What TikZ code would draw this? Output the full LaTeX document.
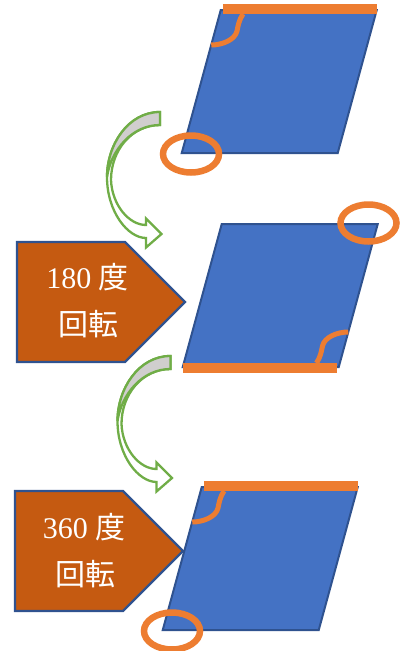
\documentclass[tikz,border=0pt]{standalone}
\usepackage{fontspec}
\setmainfont{Liberation Serif}
\newfontfamily\cjk{Noto Sans CJK JP}
\definecolor{pblue}{HTML}{4472C4}
\definecolor{pedge}{HTML}{2F528F}
\definecolor{porange}{HTML}{ED7D31}
\definecolor{pbrown}{HTML}{C55A11}
\definecolor{pgreen}{HTML}{70AD47}
\definecolor{pgray}{HTML}{D0CECE}
\tikzset{
  para/.style={fill=pblue, draw=pedge, line width=2pt, line join=miter},
  topbar/.style={draw=porange, line width=10pt, line cap=butt},
  hook/.style={draw=porange, line width=5pt},
  ring/.style={draw=porange, line width=6.5pt},
  penta/.style={fill=pbrown, draw=pedge, line width=2.2pt, line join=miter},
  lbl/.style={text=white, font=\fontsize{30}{36}\selectfont, inner sep=0pt, anchor=base},
  cgreen/.style={draw=pgreen, line width=2.3pt, line join=miter},
  paragroup/.pic={
    \draw[para] (-58.5,-71.5) -- (97.5,-71.5) -- (58.5,71.5) -- (-97.5,71.5) -- cycle;
    \draw[topbar] (-56.5,-72.5) -- (97.5,-72.5);
    \draw[hook] (-36.25,-67.5) .. controls (-40.25,-61.5) and (-41.25,-55.5) .. (-42.25,-50.5)
       .. controls (-44.25,-41.5) and (-57.25,-36.5) .. (-68,-36.5);
    \draw[ring] (-88.25,72.5) ellipse [x radius=28, y radius=18.5];
  },
  curvarrow/.pic={
    \path[cgreen, fill=white] (160,112) .. controls (128,112) and (107,145) .. (107,177)
       .. controls (107,212) and (128,238) .. (146,238)
       -- (146,247.5) -- (161.5,234) -- (146,218.5) -- (146,225)
       .. controls (129,225) and (112,205) .. (111,180)
       .. controls (111,150) and (132,125) .. (160,125) -- cycle;
    \path[cgreen, fill=pgray] (160,112) .. controls (128,112) and (107,145) .. (107,177)
       .. controls (111,150) and (132,125) .. (160,125) -- cycle;
  }
}
\begin{document}
\begin{tikzpicture}[x=1pt, y=-1pt]
\useasboundingbox (0,0) rectangle (409,651);
% parallelograms
\pic at (279.25,81.5) {paragroup};
\pic[rotate=180] at (280.25,295.5) {paragroup};
\pic at (260.25,558.5) {paragroup};
% curved arrows
\pic at (0,0) {curvarrow};
\pic at (10.5,244) {curvarrow};
% pentagon labels
\draw[penta] (17,242) -- (125,242) -- (185,302) -- (125,362) -- (17,362) -- cycle;
\draw[penta] (15,491) -- (123,491) -- (183,551) -- (123,611) -- (15,611) -- cycle;
\node[lbl] (a1) at (87.5,288) {180 {\cjk 度}};
\node[lbl] (a2) at (88,335) {{\cjk 回転}};
\node[lbl] (b1) at (84,538) {360 {\cjk 度}};
\node[lbl] (b2) at (85,585) {{\cjk 回転}};
\end{tikzpicture}
\end{document}
